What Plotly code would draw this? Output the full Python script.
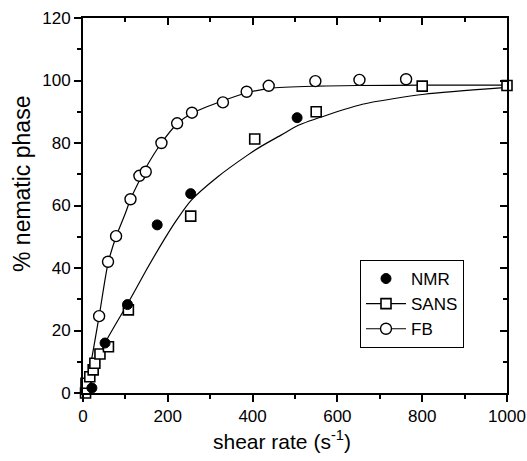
import plotly.graph_objects as go

# ---- data ----
nmr_x = [21, 52, 105, 175, 254, 505]
nmr_y = [1.6, 16, 28.3, 53.8, 63.8, 88.1]

sans_x = [6, 7, 16, 24, 28, 40, 60, 107, 254, 405, 550, 800, 1000]
sans_y = [0, 3.1, 5.2, 7.4, 9.5, 12.5, 14.8, 26.6, 56.6, 81.3, 90, 98.2, 98.4]

fb_x = [38, 59, 78, 112, 133, 148, 185, 222, 257, 330, 386, 438, 548, 652, 762]
fb_y = [24.6, 42, 50.2, 62, 69.5, 70.8, 80, 86.3, 89.7, 93, 96.4, 98.3, 99.8, 100.2, 100.4]

# fitted curves
fbfit_x = [7, 20, 38, 59, 78, 100, 112, 135, 150, 185, 221, 257, 330, 385, 440, 550, 650, 800, 1000]
fbfit_y = [0, 10.5, 24.5, 41.5, 50, 57.5, 62, 68.5, 72.5, 80, 86, 89.5, 93.5, 96, 97.5, 98.2, 98.4, 98.5, 98.5]

sansfit_x = [10, 17, 30, 52, 105, 150, 191, 219, 254, 318, 389, 421, 468, 508, 659, 805, 1000]
sansfit_y = [0, 3, 8.5, 16, 28.5, 39.5, 49, 55, 61.5, 69.2, 76.2, 79, 82.6, 85.7, 92.4, 95.6, 97.8]

x_ticks = [0, 200, 400, 600, 800, 1000]
y_ticks = [0, 20, 40, 60, 80, 100, 120]

FONT = "Liberation Sans, Arial, sans-serif"
BLACK = "#000000"

circ_open = dict(symbol="circle", size=11, color="white", line=dict(color=BLACK, width=1.4))
sq_open = dict(symbol="square", size=10, color="white", line=dict(color=BLACK, width=1.6))
circ_fill = dict(symbol="circle", size=10, color=BLACK, line=dict(color=BLACK, width=1))

fig = go.Figure()
fig.add_trace(go.Scatter(x=fbfit_x, y=fbfit_y, mode="lines", line=dict(color=BLACK, width=1.2, shape="spline", smoothing=0.7),
                         showlegend=False, hoverinfo="skip", cliponaxis=False))
fig.add_trace(go.Scatter(x=sansfit_x, y=sansfit_y, mode="lines", line=dict(color=BLACK, width=1.2, shape="spline", smoothing=0.6),
                         showlegend=False, hoverinfo="skip", cliponaxis=False))
fig.add_trace(go.Scatter(x=fb_x, y=fb_y, mode="markers", marker=circ_open, showlegend=False, cliponaxis=False))
fig.add_trace(go.Scatter(x=sans_x, y=sans_y, mode="markers", marker=sq_open, showlegend=False, cliponaxis=False))
fig.add_trace(go.Scatter(x=nmr_x, y=nmr_y, mode="markers", marker=circ_fill, showlegend=False, cliponaxis=False))

# legend entries
fig.add_trace(go.Scatter(x=[None], y=[None], mode="markers", marker=circ_fill, name="NMR"))
fig.add_trace(go.Scatter(x=[None], y=[None], mode="lines+markers", marker=sq_open, line=dict(color=BLACK, width=1.2), name="SANS"))
fig.add_trace(go.Scatter(x=[None], y=[None], mode="lines+markers", marker=circ_open, line=dict(color=BLACK, width=1.2), name="FB"))

axis_common = dict(showgrid=False, zeroline=False, showline=True, linecolor=BLACK, linewidth=2,
                   tickcolor=BLACK, tickwidth=1.5, ticklen=7, automargin=False)

fig.update_layout(
    width=527, height=461,
    margin=dict(l=83, r=20, t=18, b=68, autoexpand=False),
    paper_bgcolor="white", plot_bgcolor="white",
    font=dict(family=FONT, color=BLACK, size=17),
    xaxis=dict(range=[0, 1000], tickvals=x_ticks, ticktext=[str(v) for v in x_ticks], ticks="outside",
               minor=dict(dtick=100, tick0=0, ticks="outside", ticklen=4, tickcolor=BLACK, tickwidth=1.5),
               tickfont=dict(size=17), **axis_common),
    yaxis=dict(range=[0, 120], tickvals=y_ticks, ticktext=[str(v) for v in y_ticks], ticks="outside",
               minor=dict(dtick=10, tick0=0, ticks="outside", ticklen=4, tickcolor=BLACK, tickwidth=1.5),
               tickfont=dict(size=17), **axis_common),
    xaxis2=dict(range=[0, 1000], overlaying="x", side="top", tickvals=x_ticks, showticklabels=False, ticks="inside",
                minor=dict(dtick=100, tick0=0, ticks="inside", ticklen=4, tickcolor=BLACK, tickwidth=1.5),
                **axis_common),
    yaxis2=dict(range=[0, 120], overlaying="y", side="right", tickvals=y_ticks, showticklabels=False, ticks="inside",
                minor=dict(dtick=10, tick0=0, ticks="inside", ticklen=4, tickcolor=BLACK, tickwidth=1.5),
                **axis_common),
    legend=dict(x=(360 - 83) / 424, y=(393 - 260) / 375, xanchor="left", yanchor="top",
                bordercolor=BLACK, borderwidth=1, bgcolor="white", itemwidth=40,
                font=dict(family=FONT, size=17, color=BLACK), tracegroupgap=0),
    annotations=[
        dict(text="shear rate (s<sup>-1</sup>)", xref="paper", yref="paper",
             x=(282 - 83) / 424, y=(393 - 440) / 375, xanchor="center", yanchor="middle",
             showarrow=False, font=dict(family=FONT, size=21, color=BLACK)),
        dict(text="% nematic phase", xref="paper", yref="paper",
             x=(22 - 83) / 424, y=(393 - 184) / 375, xanchor="center", yanchor="middle",
             textangle=-90, showarrow=False, font=dict(family=FONT, size=23, color=BLACK)),
    ],
)

# invisible anchor trace so the mirrored axes are drawn
fig.add_trace(go.Scatter(x=[None], y=[None], xaxis="x2", yaxis="y2", showlegend=False, hoverinfo="skip"))

fig.write_html("out.html")
